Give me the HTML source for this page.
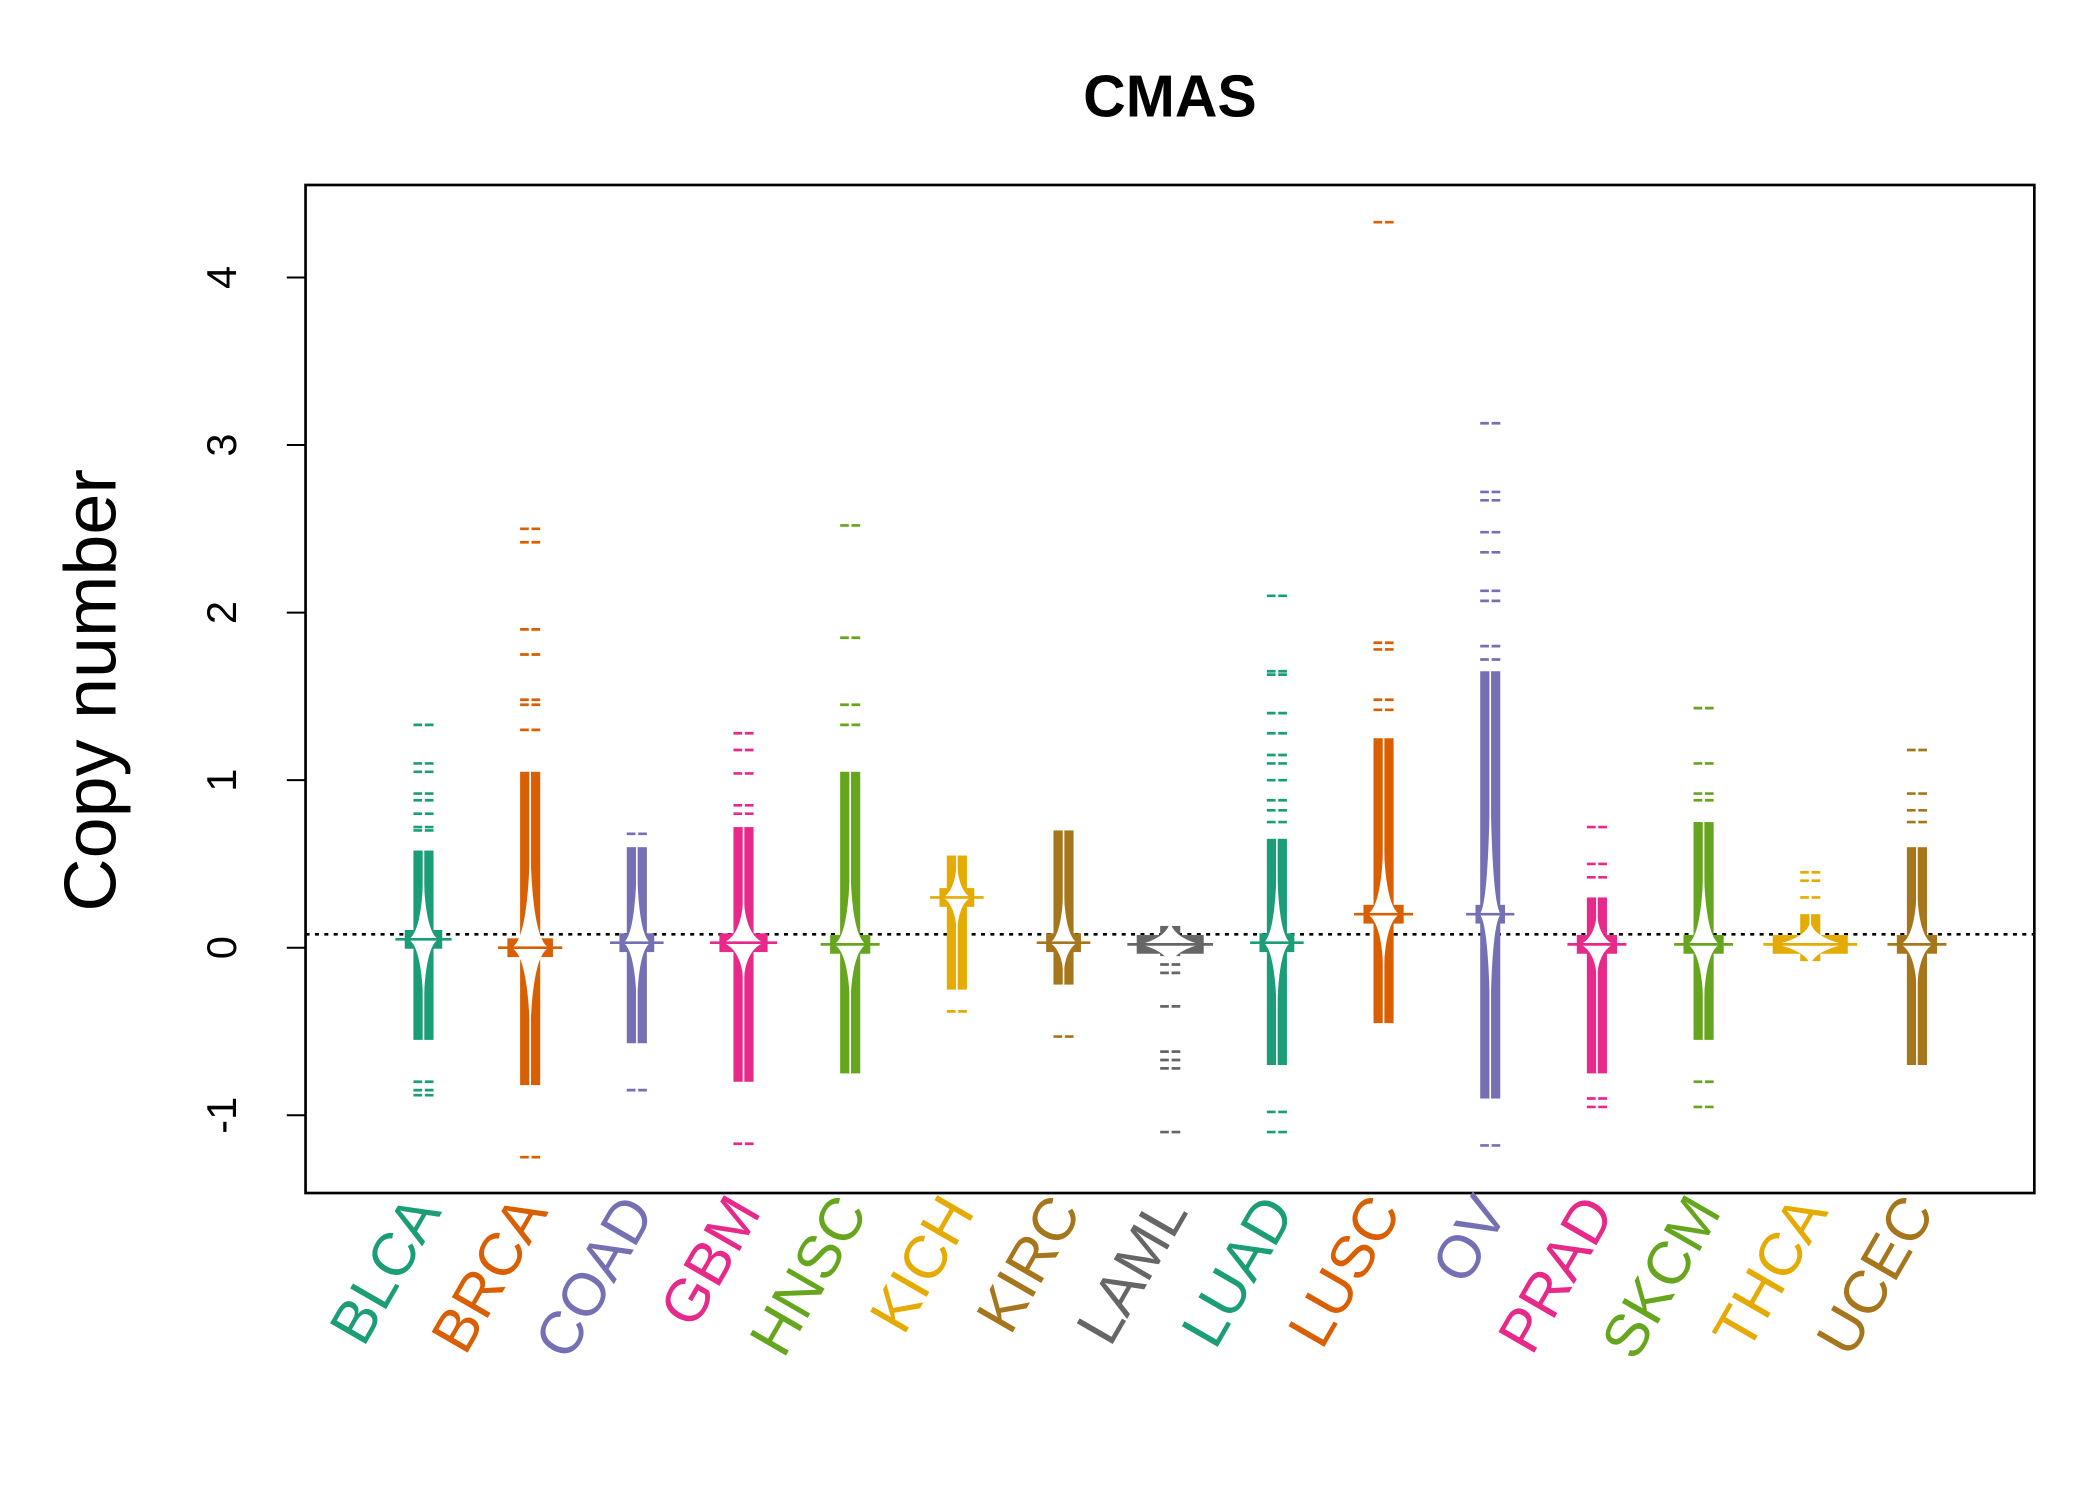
<!DOCTYPE html>
<html><head><meta charset="utf-8"><style>html,body{margin:0;padding:0;background:#fff}svg{display:block}</style></head>
<body>
<svg id="chart" width="2100" height="1500" viewBox="0 0 1567 1119" preserveAspectRatio="none" xmlns="http://www.w3.org/2000/svg" font-family="Liberation Sans, sans-serif">
<text x="873" y="87" text-anchor="middle" font-size="44" font-weight="bold">CMAS</text>
<rect x="228" y="138" width="1290" height="752" fill="none" stroke="#000" stroke-width="2"/>
<text transform="translate(86,515) rotate(-90)" text-anchor="middle" font-size="55">Copy number</text>
<g id="yaxis"></g>
<g id="marks"></g>
<g id="xlabels"></g>
</svg>
<script>
const categories=["BLCA","BRCA","COAD","GBM","HNSC","KICH","KIRC","LAML","LUAD","LUSC","OV","PRAD","SKCM","THCA","UCEC"];
const bodyLow=[-0.55,-0.82,-0.57,-0.8,-0.75,-0.25,-0.22,-0.05,-0.7,-0.45,-0.9,-0.75,-0.55,-0.08,-0.7];
const bodyHigh=[0.58,1.05,0.6,0.72,1.05,0.55,0.7,0.13,0.65,1.25,1.65,0.3,0.75,0.2,0.6];
const medians=[0.05,0.0,0.03,0.03,0.02,0.3,0.03,0.02,0.03,0.2,0.2,0.02,0.02,0.02,0.02];
const densLow=[-0.3,-0.5,-0.3,-0.15,-0.3,0.15,-0.1,-0.05,-0.35,-0.1,-0.4,-0.12,-0.3,-0.05,-0.2];
const densHigh=[0.4,0.6,0.45,0.25,0.45,0.45,0.3,0.1,0.45,0.6,1.0,0.15,0.45,0.1,0.3];
const densWidth=[11,14,10,15,12,10,10,22,10,12,8,12,12,25,12];
const outliers=[
[1.33,1.1,1.05,0.92,0.88,0.8,0.72,0.7,-0.8,-0.85,-0.88],
[2.5,2.42,1.9,1.75,1.48,1.45,1.3,-1.25],
[0.68,-0.85],
[1.28,1.18,1.04,0.85,0.8,-1.17],
[2.52,1.85,1.45,1.33],
[-0.38],
[-0.53],
[-0.1,-0.15,-0.35,-0.62,-0.67,-0.72,-1.1],
[2.1,1.65,1.63,1.4,1.28,1.15,1.1,1.0,0.88,0.82,0.75,-0.98,-1.1],
[4.33,1.82,1.78,1.48,1.42],
[3.13,2.72,2.67,2.48,2.36,2.13,2.07,1.8,1.72,-1.18],
[0.72,0.5,0.42,-0.9,-0.95],
[1.43,1.1,0.92,0.88,-0.8,-0.95],
[0.45,0.4,0.3],
[1.18,0.92,0.82,0.75]];
const yTicks=[-1,0,1,2,3,4];
const refLine=0.08;
const colors=["#1B9E77","#D95F02","#7570B3","#E7298A","#66A61E","#E6AB02","#A6761D","#666666","#1B9E77","#D95F02","#7570B3","#E7298A","#66A61E","#E6AB02","#A6761D"];
const NS="http://www.w3.org/2000/svg";
const Y=v=>707-125*v;
const X=i=>316+i*79.6;
function mk(tag,attrs,parent){const e=document.createElementNS(NS,tag);for(const k in attrs)e.setAttribute(k,attrs[k]);parent.appendChild(e);return e;}
const ya=document.getElementById('yaxis');
mk('line',{x1:228,x2:228,y1:Y(-1),y2:Y(4),stroke:'#000','stroke-width':1.5},ya);
yTicks.forEach(t=>{
 const tk=mk('line',{x1:214,x2:228,y1:Y(t),y2:Y(t),stroke:'#000','stroke-width':1.5},ya);
 
 
 const tx=mk('text',{transform:`translate(176,${Y(t)}) rotate(-90)`,'text-anchor':'middle','font-size':31},ya);
 tx.textContent=String(t);
 
 
});
const g=document.getElementById('marks');
const rl=mk('line',{x1:228,x2:1518,y1:Y(refLine),y2:Y(refLine),stroke:'#000','stroke-width':2,'stroke-dasharray':'3,4'},g);


const xl=document.getElementById('xlabels');
categories.forEach((c,i)=>{
 const cx=X(i),col=colors[i];
 const bg=mk('g',{},g);
 
 
 mk('rect',{x:cx-7.5,y:Y(bodyHigh[i]),width:15,height:Y(bodyLow[i])-Y(bodyHigh[i]),fill:col},bg);
 mk('line',{x1:cx,x2:cx,y1:Y(bodyHigh[i]),y2:Y(bodyLow[i]),stroke:'#fff','stroke-width':1.2},bg);
 outliers[i].forEach(v=>{
  const d=mk('line',{x1:cx-7.5,x2:cx+7.5,y1:Y(v),y2:Y(v),stroke:col,'stroke-width':2,'stroke-dasharray':'6.5,2'},bg);
  
  
 });
 const m=medians[i],w=densWidth[i],hi=Y(densHigh[i]),lo=Y(densLow[i]),my=Y(m);
 mk('rect',{x:cx-w-3,y:my-7,width:2*w+6,height:14,fill:col},bg);
 const k=mk('path',{d:`M${cx},${hi-8} Q${cx+1},${my-6} ${cx+w},${my} Q${cx+1},${my+6} ${cx},${lo+8} Q${cx-1},${my+6} ${cx-w},${my} Q${cx-1},${my-6} ${cx},${hi-8}Z`,fill:'#fff'},bg);
 
 
 const md=mk('line',{x1:cx-w-10,x2:cx+w+10,y1:my,y2:my,stroke:col,'stroke-width':2},bg);
 
 
 const t=mk('text',{transform:`translate(${cx+14},${904}) rotate(-60)`,'text-anchor':'end','font-size':45,fill:col},xl);
 t.textContent=c;
 
 
});
</script>
</body></html>
